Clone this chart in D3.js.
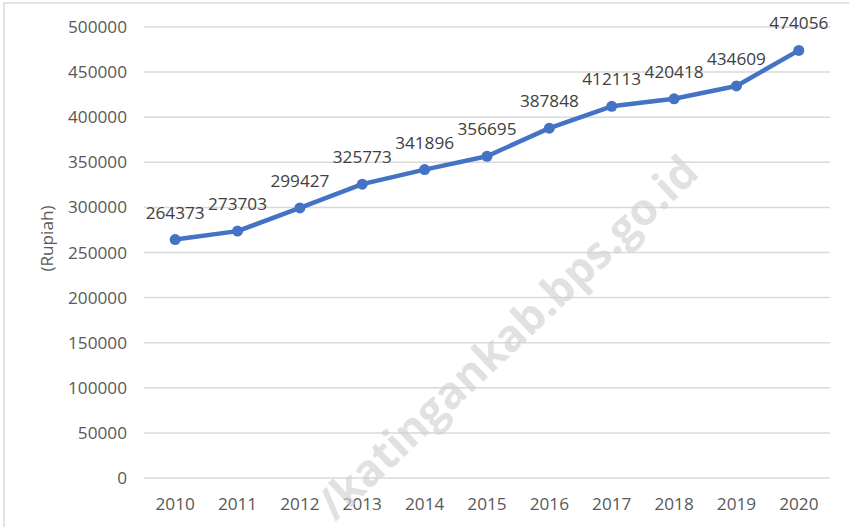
<!DOCTYPE html>
<html>
<head>
<meta charset="utf-8">
<script src="https://cdn.jsdelivr.net/npm/d3@7"></script>
<style>
  body { margin: 0; background: #fff; }
  svg { display: block; font-family: "Open Sans", sans-serif; }
</style>
</head>
<body>
<div id="chart"></div>
<script>
const years = ["2010", "2011", "2012", "2013", "2014", "2015", "2016", "2017", "2018", "2019", "2020"];
const values = [264373, 273703, 299427, 325773, 341896, 356695, 387848, 412113, 420418, 434609, 474056];
const yTicks = [0, 50000, 100000, 150000, 200000, 250000, 300000, 350000, 400000, 450000, 500000];

const width = 849, height = 527;
const margin = { top: 27, right: 19, bottom: 49, left: 144 };
const plotW = width - margin.left - margin.right;
const plotH = height - margin.top - margin.bottom;
const fs = 17.2;

const svg = d3.select("#chart").append("svg")
    .attr("width", width)
    .attr("height", height);

// outer frame (cut off on right/bottom like the screenshot)
svg.append("rect")
    .attr("x", 4).attr("y", 3)
    .attr("width", width + 10).attr("height", height + 10)
    .attr("fill", "none")
    .attr("stroke", "#d9d9d9")
    .attr("stroke-width", 1.5);

const g = svg.append("g").attr("transform", `translate(${margin.left},${margin.top})`);

const x = d3.scaleBand().domain(years).range([0, plotW]);
const y = d3.scaleLinear().domain([0, 500000]).range([plotH, 0]);
const cx = d => x(d) + x.bandwidth() / 2;

// gridlines
g.append("g")
    .selectAll("line")
    .data(yTicks)
    .join("line")
    .attr("x1", 0).attr("x2", plotW)
    .attr("y1", d => y(d)).attr("y2", d => y(d))
    .attr("stroke", "#d9d9d9")
    .attr("stroke-width", 1.5);

// y axis labels
const yAxis = g.append("g")
    .call(d3.axisLeft(y).tickValues(yTicks).tickSize(0).tickPadding(17).tickFormat(d3.format("d")));
yAxis.select(".domain").remove();
yAxis.selectAll("text")
    .attr("font-family", "Open Sans, sans-serif")
    .attr("font-size", fs)
    .attr("fill", "#595959");

// x axis labels
const xAxis = g.append("g")
    .attr("transform", `translate(0,${plotH})`)
    .call(d3.axisBottom(x).tickSize(0).tickPadding(20));
xAxis.select(".domain").remove();
xAxis.selectAll("text")
    .attr("font-family", "Open Sans, sans-serif")
    .attr("font-size", fs)
    .attr("fill", "#595959");

// axis title
svg.append("text")
    .attr("transform", `translate(53,${margin.top + plotH / 2 - 14}) rotate(-90)`)
    .attr("text-anchor", "middle")
    .attr("font-size", fs)
    .attr("fill", "#595959")
    .text("(Rupiah)");

// watermark
svg.append("text")
    .attr("transform", "translate(510,340) rotate(-43.5)")
    .attr("text-anchor", "middle")
    .attr("dominant-baseline", "middle")
    .attr("font-family", "Open Sans, sans-serif")
    .attr("font-weight", "bold")
    .attr("font-size", 44)
    .attr("fill", "#d0d0d0")
    .attr("fill-opacity", 0.65)
    .text("/katingankab.bps.go.id");

// line
const line = d3.line()
    .x((d, i) => cx(years[i]))
    .y(d => y(d));

g.append("path")
    .datum(values)
    .attr("d", line)
    .attr("fill", "none")
    .attr("stroke", "#4472c4")
    .attr("stroke-width", 4.5)
    .attr("stroke-linejoin", "round");

g.selectAll(".pt")
    .data(values)
    .join("circle")
    .attr("class", "pt")
    .attr("cx", (d, i) => cx(years[i]))
    .attr("cy", d => y(d))
    .attr("r", 5.5)
    .attr("fill", "#4472c4");

// data labels
g.selectAll(".lbl")
    .data(values)
    .join("text")
    .attr("class", "lbl")
    .attr("x", (d, i) => cx(years[i]))
    .attr("y", d => y(d) - 21)
    .attr("text-anchor", "middle")
    .attr("font-size", fs)
    .attr("fill", "#404040")
    .text(d => d);
</script>
</body>
</html>
